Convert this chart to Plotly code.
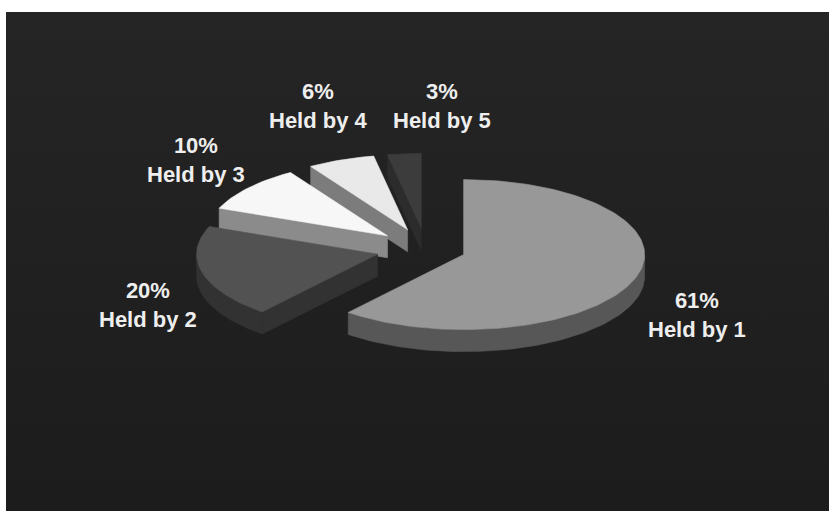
import numpy as np
import plotly.graph_objects as go

# Share of items by number of holders
holders = ["Held by 1", "Held by 2", "Held by 3", "Held by 4", "Held by 5"]
shares = [61, 20, 10, 6, 3]

# Face colours: top surface and the shaded sides of each wedge
top_colors = ["#989898", "#525252", "#f7f7f7", "#e9e9e9", "#3c3c3c"]
side_colors = ["#575757", "#323232", "#8b8b8b", "#7c7c7c", "#2c2c2c"]

# Label anchor positions (canvas units)
label_x = [697, 148, 196, 318, 442]
label_y = [315, 305, 160, 106, 106]

# Tilted-disc geometry (canvas units, y grows downward)
W, H = 829, 511
LEFT, TOP = 6, 12
CX, CY = 426, 249
RX, RY = 181, 75
DEPTH = 22
PULL = [40, 50, 50, 50, 50]


def rim(ax, ay, th_deg, drop=0.0):
    th = np.radians(th_deg)
    return ax + RX * np.sin(th), ay - RY * np.cos(th) + drop


def arc(ax, ay, a0, a1, drop=0.0):
    n = max(2, int(abs(a1 - a0) / 1.5) + 2)
    th = np.linspace(a0, a1, n)
    xs, ys = rim(ax, ay, th, drop)
    return list(xs), list(ys)


def poly_trace(xs, ys, color):
    return go.Scatter(
        x=xs + [xs[0]], y=ys + [ys[0]], mode="lines", fill="toself",
        fillcolor=color, line=dict(color=color, width=0.6),
        hoverinfo="skip", showlegend=False,
    )


fig = go.Figure()

# Panel background with a soft vertical gradient
fig.add_trace(go.Scatter(
    x=[LEFT, W, W, LEFT, LEFT], y=[TOP, TOP, H, H, TOP], mode="lines",
    fill="toself", line=dict(width=0),
    fillgradient=dict(type="vertical", start=TOP, stop=H,
                      colorscale=[[0, "#252525"], [1, "#1c1c1c"]]),
    hoverinfo="skip", showlegend=False,
))

# Wedge angles, clockwise from 12 o'clock
total = float(sum(shares))
bounds = np.concatenate([[0.0], np.cumsum(shares) / total * 360.0])

wedges = []
for i, s in enumerate(shares):
    a0, a1 = bounds[i], bounds[i + 1]
    mid = np.radians((a0 + a1) / 2)
    ax = CX + PULL[i] * np.sin(mid)
    ay = CY - PULL[i] * np.cos(mid) * (RY / RX)
    depth_key = ay + 0.6 * RY * (-np.cos(mid))
    wedges.append((depth_key, i, a0, a1, ax, ay))

# Paint back-to-front
for _, i, a0, a1, ax, ay in sorted(wedges):
    side = side_colors[i]
    # Radial cut face at the start edge (visible when it faces the viewer)
    if np.cos(np.radians(a0 - 90)) < 0:
        px, py = rim(ax, ay, a0)
        fig.add_trace(poly_trace([ax, px, px, ax],
                                 [ay, py, py + DEPTH, ay + DEPTH], side))
    # Radial cut face at the end edge
    if np.cos(np.radians(a1 + 90)) < 0:
        px, py = rim(ax, ay, a1)
        fig.add_trace(poly_trace([ax, px, px, ax],
                                 [ay, py, py + DEPTH, ay + DEPTH], side))
    # Curved outer wall on the front half of the disc
    lo, hi = max(a0, 90.0), min(a1, 270.0)
    if hi > lo:
        tx, ty = arc(ax, ay, lo, hi)
        bx, by = arc(ax, ay, lo, hi, DEPTH)
        fig.add_trace(poly_trace(tx + bx[::-1], ty + by[::-1], side))
    # Top face
    tx, ty = arc(ax, ay, a0, a1)
    fig.add_trace(poly_trace([ax] + tx, [ay] + ty, top_colors[i]))

for i, s in enumerate(shares):
    fig.add_annotation(
        x=label_x[i], y=label_y[i], xref="x", yref="y",
        text=f"<b>{s}%<br>{holders[i]}</b>", showarrow=False, align="center",
        font=dict(family="Liberation Sans, Arial, sans-serif", size=22,
                  color="#eeeeee"),
    )

fig.update_layout(
    width=W, height=H,
    margin=dict(l=LEFT, t=TOP, r=0, b=0, pad=0),
    paper_bgcolor="#ffffff", plot_bgcolor="#212121",
    xaxis=dict(range=[LEFT, W], visible=False, fixedrange=True),
    yaxis=dict(range=[H, TOP], visible=False, fixedrange=True),
    showlegend=False,
)

fig.write_html("out.html")
